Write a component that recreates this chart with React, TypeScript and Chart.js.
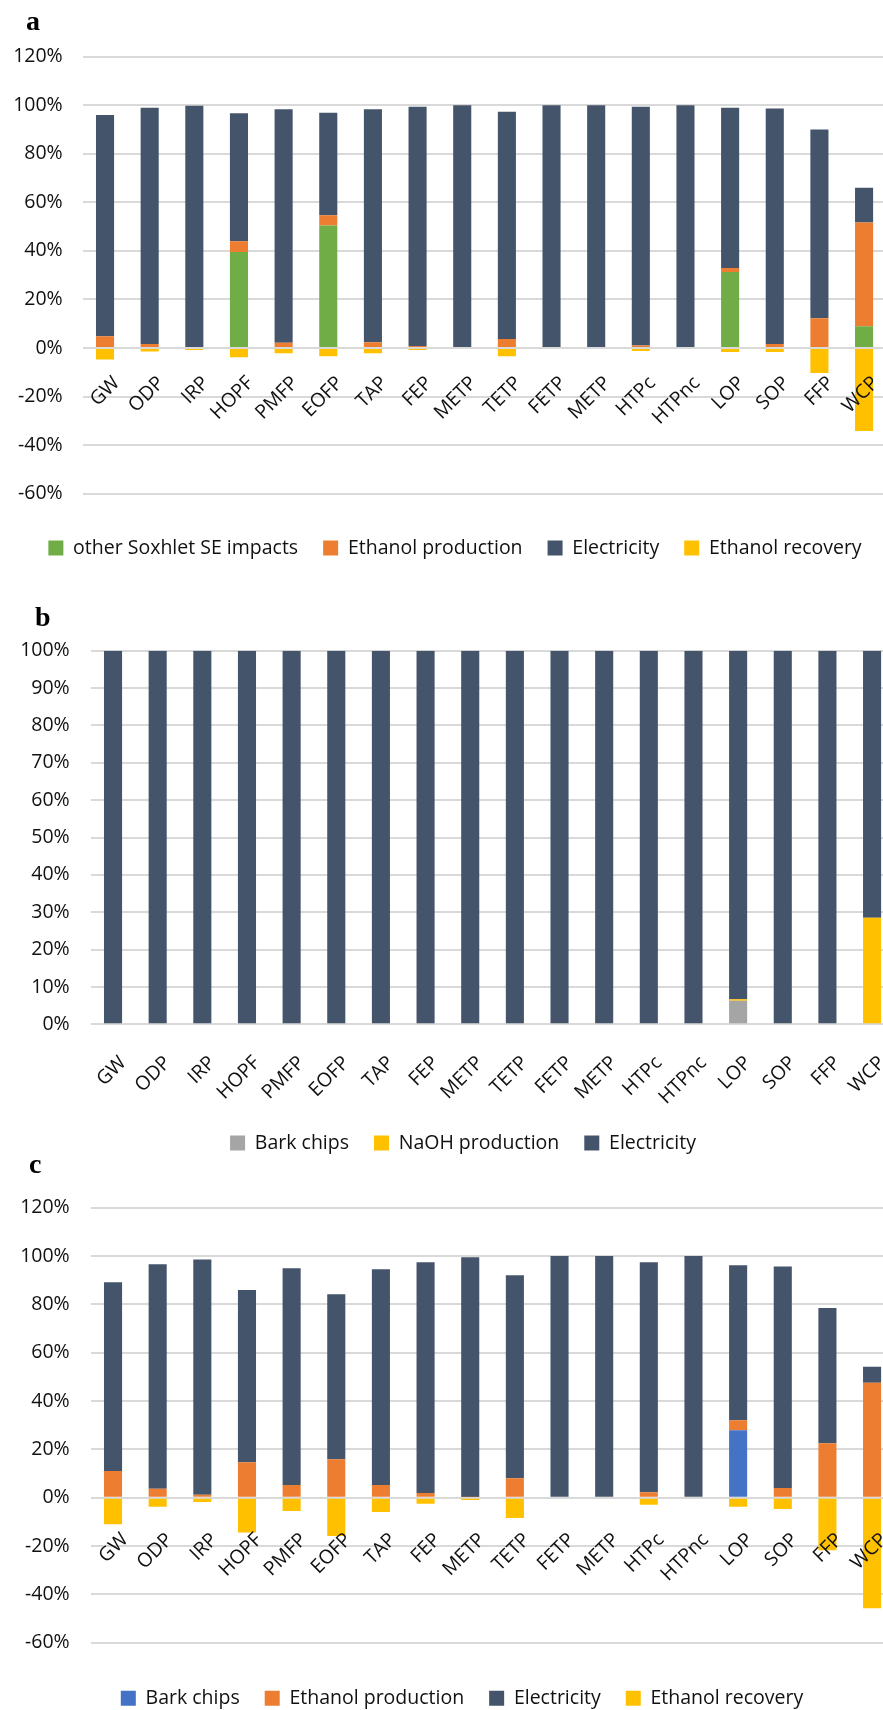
import React, { useEffect, useRef } from 'react';
import { Chart, registerables } from 'chart.js';

Chart.register(...registerables);
const FAMILY = "'Open Sans', 'Noto Sans', sans-serif";
Chart.defaults.font.family = FAMILY;

const categories = ['GW', 'ODP', 'IRP', 'HOPF', 'PMFP', 'EOFP', 'TAP', 'FEP', 'METP', 'TETP', 'FETP', 'METP', 'HTPc', 'HTPnc', 'LOP', 'SOP', 'FFP', 'WCP'];

// Panel a (Soxhlet extraction)
const aSoxhletOther = [0, 0, 0, 39.6, 0, 50.5, 0, 0, 0, 0, 0, 0, 0, 0, 31.3, 0, 0, 9];
const aEthanolProduction = [4.9, 1.7, 0.4, 4.4, 2.2, 4.2, 2.4, 0.8, 0, 3.7, 0, 0, 1, 0, 1.7, 1.7, 12.3, 42.7];
const aElectricity = [91.1, 97.3, 99.4, 52.7, 96.2, 42.2, 96, 98.6, 100, 93.6, 100, 100, 98.4, 100, 66, 97, 77.7, 14.3];
const aEthanolRecovery = [-4.7, -1.4, -0.8, -3.8, -2.2, -3.4, -2.2, -0.8, 0, -3.4, 0, 0, -1.2, 0, -1.6, -1.6, -10.3, -34.2];

// Panel b
const bBarkChips = [0, 0, 0, 0, 0, 0, 0, 0, 0, 0, 0, 0, 0, 0, 6.3, 0, 0, 0];
const bNaOHProduction = [0, 0, 0, 0, 0, 0, 0, 0, 0, 0, 0, 0, 0, 0, 0.4, 0, 0, 28.5];
const bElectricity = [100, 100, 100, 100, 100, 100, 100, 100, 100, 100, 100, 100, 100, 100, 93.3, 100, 100, 71.5];

// Panel c
const cBarkChips = [0, 0, 0, 0, 0, 0, 0, 0, 0, 0, 0, 0, 0, 0, 27.9, 0, 0, 0];
const cEthanolProduction = [11, 3.7, 1.2, 14.7, 5.3, 15.9, 5.3, 1.9, 0.3, 8, 0, 0, 2.3, 0, 4.1, 4, 22.5, 47.6];
const cElectricity = [78.2, 92.9, 97.4, 71.2, 89.6, 68.3, 89.2, 95.5, 99.2, 84, 100, 100, 95.1, 100, 64.2, 91.7, 56, 6.6];
const cEthanolRecovery = [-11, -3.7, -1.8, -14.4, -5.5, -15.8, -5.9, -2.5, -1, -8.4, 0, 0, -2.9, 0, -3.7, -4.7, -21.7, -45.7];

// Axis ranges
const acAxis = { min: -60, max: 120, step: 20 };
const bAxis = { min: 0, max: 100, step: 10 };

const GREEN = '#70AD47';
const ORANGE = '#ED7D31';
const DARK = '#44546A';
const YELLOW = '#FFC000';
const GRAY = '#A5A5A5';
const BLUE = '#4472C4';

const TEXT = '#111111';
const FONT_SIZE = 19.5;

// Draws the category labels of the x scale, rotated, on top of the bars,
// anchored at the zero line of the value scale.
const rotatedLabels = {
  id: 'rotatedLabels',
  afterDatasetsDraw(chart: any, _args: any, opts: any) {
    const xs = chart.scales.x;
    const ys = chart.scales.y;
    const zeroY = ys.getPixelForValue(0);
    const ctx = chart.ctx;
    ctx.save();
    ctx.font = `${FONT_SIZE}px ${FAMILY}`;
    ctx.fillStyle = TEXT;
    ctx.textAlign = 'right';
    ctx.textBaseline = 'middle';
    xs.ticks.forEach((_t: any, i: number) => {
      const px = xs.getPixelForTick(i);
      const label = xs.getLabelForValue(i);
      ctx.save();
      ctx.translate(px + opts.dx, zeroY + opts.dy);
      ctx.rotate(-Math.PI / 4);
      ctx.fillText(label, 0, 0);
      ctx.restore();
    });
    ctx.restore();
  },
};

type PanelCfg = {
  top: number;
  width: number;
  height: number;
  padTop: number;
  padBottom: number;
  yWidth: number;
  rightWidth: number;
  gap: number;
  yPad: number;
  labelDx: number;
  labelDy: number;
  axis: { min: number; max: number; step: number };
  datasets: any[];
};

function Panel({ cfg }: { cfg: PanelCfg }) {
  const ref = useRef<HTMLCanvasElement>(null);
  useEffect(() => {
    const chart = new Chart(ref.current as HTMLCanvasElement, {
      type: 'bar',
      data: { labels: categories, datasets: cfg.datasets },
      plugins: [rotatedLabels],
      options: {
        responsive: false,
        animation: false,
        devicePixelRatio: 1,
        layout: { padding: { top: cfg.padTop, bottom: cfg.padBottom, left: 0, right: 0 } },
        datasets: { bar: { barPercentage: 0.405, categoryPercentage: 1 } },
        plugins: {
          tooltip: { enabled: false },
          rotatedLabels: { dx: cfg.labelDx, dy: cfg.labelDy },
          legend: {
            position: 'bottom',
            labels: {
              boxWidth: 15,
              boxHeight: 15,
              padding: 25,
              color: TEXT,
              font: { size: FONT_SIZE },
            },
          },
        } as any,
        scales: {
          x: {
            type: 'category',
            stacked: true,
            position: { y: 0 } as any,
            grid: { display: false, drawTicks: false },
            border: { display: false },
            ticks: { display: false },
            afterFit: (s: any) => {
              s.height = 0;
            },
          },
          y: {
            type: 'linear',
            stacked: true,
            min: cfg.axis.min,
            max: cfg.axis.max,
            ticks: {
              stepSize: cfg.axis.step,
              padding: cfg.yPad,
              color: TEXT,
              font: { size: FONT_SIZE },
              callback: (v: any) => `${v}%`,
            },
            grid: { color: '#D9D9D9', lineWidth: 2, drawTicks: false },
            border: { display: false },
            afterFit: (s: any) => {
              s.width = cfg.yWidth;
            },
          },
          gapAxis: {
            type: 'linear',
            axis: 'x',
            position: 'bottom',
            display: true,
            grid: { display: false, drawTicks: false },
            border: { display: false },
            ticks: { display: false },
            afterFit: (s: any) => {
              s.height = cfg.gap;
            },
          },
          rightAxis: {
            type: 'linear',
            axis: 'y',
            position: 'right',
            display: true,
            grid: { display: false, drawTicks: false },
            border: { display: false },
            ticks: { display: false },
            afterFit: (s: any) => {
              s.width = cfg.rightWidth;
            },
          },
        } as any,
      },
    });
    return () => chart.destroy();
  }, []);
  return (
    <canvas
      ref={ref}
      width={cfg.width}
      height={cfg.height}
      style={{ position: 'absolute', left: 0, top: cfg.top, width: cfg.width, height: cfg.height }}
    />
  );
}

const panelA: PanelCfg = {
  top: 0,
  width: 910,
  height: 570,
  padTop: 56.7,
  padBottom: 2.25,
  yWidth: 82.7,
  rightWidth: 23.6,
  gap: 19.55,
  yPad: 20,
  labelDx: 11.5,
  labelDy: 32,
  axis: acAxis,
  datasets: [
    { label: 'other Soxhlet SE impacts', data: aSoxhletOther, backgroundColor: GREEN },
    { label: 'Ethanol production', data: aEthanolProduction, backgroundColor: ORANGE },
    { label: 'Electricity', data: aElectricity, backgroundColor: DARK },
    { label: 'Ethanol recovery', data: aEthanolRecovery, backgroundColor: YELLOW },
  ],
};

const panelB: PanelCfg = {
  top: 580,
  width: 926,
  height: 585,
  padTop: 70.7,
  padBottom: 2.25,
  yWidth: 90.7,
  rightWidth: 31.6,
  gap: 83.95,
  yPad: 21,
  labelDx: 10,
  labelDy: 35.5,
  axis: bAxis,
  datasets: [
    { label: 'Bark chips', data: bBarkChips, backgroundColor: GRAY },
    { label: 'NaOH production', data: bNaOHProduction, backgroundColor: YELLOW },
    { label: 'Electricity', data: bElectricity, backgroundColor: DARK },
  ],
};

const panelC: PanelCfg = {
  top: 1175,
  width: 924,
  height: 545,
  padTop: 30.3,
  padBottom: 1.95,
  yWidth: 90.7,
  rightWidth: 29.6,
  gap: 20.85,
  yPad: 21,
  labelDx: 12,
  labelDy: 39,
  axis: acAxis,
  datasets: [
    { label: 'Bark chips', data: cBarkChips, backgroundColor: BLUE },
    { label: 'Ethanol production', data: cEthanolProduction, backgroundColor: ORANGE },
    { label: 'Electricity', data: cElectricity, backgroundColor: DARK },
    { label: 'Ethanol recovery', data: cEthanolRecovery, backgroundColor: YELLOW },
  ],
};

const letterStyle = (left: number, top: number): React.CSSProperties => ({
  position: 'absolute',
  left,
  top,
  font: "bold 28px 'Liberation Serif', 'DejaVu Serif', serif",
  lineHeight: 1,
  color: '#000',
  zIndex: 2,
});

export default function App() {
  return (
    <div
      style={{
        position: 'absolute',
        left: 0,
        top: 0,
        width: 883,
        height: 1710,
        overflow: 'hidden',
        background: '#ffffff',
      }}
    >
      <Panel cfg={panelA} />
      <Panel cfg={panelB} />
      <Panel cfg={panelC} />
      <div style={letterStyle(26, 6.5)}>a</div>
      <div style={letterStyle(35, 603.3)}>b</div>
      <div style={letterStyle(29, 1149.5)}>c</div>
    </div>
  );
}
